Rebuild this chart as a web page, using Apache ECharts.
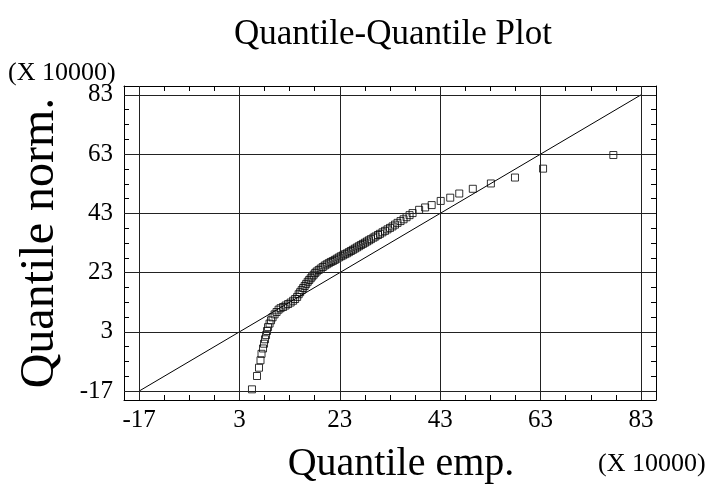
<!DOCTYPE html>
<head>
    <meta charset="utf-8">
    <title>Quantile-Quantile Plot</title>
    <script src="https://cdn.jsdelivr.net/npm/echarts@6/dist/echarts.min.js"></script>
<style type="text/css">
    body{ margin:0; background:#fff; }
    #main{ width:709px; height:487px; }
</style>
</head>
<body>
<div id="main"></div>
<script>
    // empirical quantile (x), normal quantile (y), both in units of 10000
    var empQ = [77.5, 63.5, 57.9, 53.1, 49.5, 46.8, 45.0, 43.1, 41.3, 40.0, 38.8, 37.5,
        36.9, 36.3, 35.7, 35.1, 34.5, 34.0, 33.5, 33.0, 32.5, 32.0, 31.5, 31.0, 30.6, 30.1,
        29.7, 29.2, 28.8, 28.4, 28.0, 27.6, 27.2, 26.8, 26.4, 26.0, 25.6, 25.2, 24.8, 24.4,
        24.0, 23.6, 23.2, 22.8, 22.4, 22.0, 21.6, 21.2, 20.8, 20.4, 20.0, 19.6, 19.2, 18.8,
        18.4, 18.1, 17.8, 17.5, 17.2, 16.9, 16.6, 16.3, 16.0, 15.7, 15.4, 15.1, 14.8, 14.5,
        14.1, 13.7, 13.2, 12.7, 12.2, 11.7, 11.2, 10.8, 10.4, 10.0, 9.6, 9.3, 9.0, 8.7, 8.5,
        8.3, 8.1, 7.9, 7.7, 7.4, 7.2, 6.9, 6.5, 5.5];
    var normQ = [62.7, 58.1, 55.1, 53.1, 51.3, 49.7, 48.3, 47.2, 45.8, 45.0, 44.2, 43.1,
        42.4, 41.7, 41.0, 40.4, 39.8, 39.2, 38.6, 38.1, 37.6, 37.1, 36.6, 36.1, 35.7, 35.2,
        34.8, 34.3, 33.9, 33.5, 33.1, 32.7, 32.3, 31.9, 31.5, 31.1, 30.7, 30.3, 29.9, 29.5,
        29.2, 28.8, 28.5, 28.1, 27.7, 27.3, 26.9, 26.6, 26.2, 25.8, 25.4, 24.9, 24.4, 23.9,
        23.4, 22.9, 22.3, 21.7, 21.1, 20.5, 19.9, 19.2, 18.5, 17.8, 17.1, 16.4, 15.7, 14.8,
        14.1, 13.5, 12.9, 12.4, 11.9, 11.4, 11.0, 10.5, 9.7, 8.9, 7.9, 6.9, 5.8, 4.6, 3.3,
        1.9, 0.5, -1.0, -2.6, -4.4, -6.6, -9.1, -11.9, -16.4];
    var refLine = [[-17, -17], [83, 83]];
    var majorTicks = [-17, 3, 23, 43, 63, 83];
    var minorTicks = [-17, -12, -7, -2, 3, 8, 13, 18, 23, 28, 33, 38, 43, 48, 53, 58, 63, 68, 73, 78, 83];

    var points = [];
    for (var i = 0; i < empQ.length; i++) {
        points.push([empQ[i], normQ[i]]);
    }

    var font = 'Liberation Serif';
    var gridLines = [];
    for (var j = 0; j < majorTicks.length; j++) {
        gridLines.push({xAxis: majorTicks[j]});
        gridLines.push({yAxis: majorTicks[j]});
    }

    function frameAxis(pos, showLabel) {
        return {
            type: 'value',
            position: pos,
            min: -20,
            max: 86,
            axisLine: {show: true, onZero: false, lineStyle: {color: '#000', width: 1}},
            axisTick: {show: true, inside: true, length: 5, customValues: minorTicks,
                lineStyle: {color: '#000', width: 1}},
            axisLabel: {show: showLabel, customValues: majorTicks, color: '#000',
                fontFamily: font, fontSize: 25},
            splitLine: {show: false}
        };
    }

    var myChart = echarts.init(document.getElementById('main'));
    var xBottom = frameAxis('bottom', true);
    xBottom.axisLabel.margin = 8;
    xBottom.name = 'Quantile emp.';
    xBottom.nameLocation = 'middle';
    xBottom.nameGap = 44;
    xBottom.nameTextStyle = {fontFamily: font, fontSize: 40, color: '#000', padding: [0, 0, 0, 22]};
    var yLeft = frameAxis('left', true);
    yLeft.axisLabel.margin = 11;
    yLeft.name = 'Quantile norm.';
    yLeft.nameLocation = 'middle';
    yLeft.nameGap = 60;
    yLeft.nameTextStyle = {fontFamily: font, fontSize: 48, color: '#000'};

    var option = {
        animation: false,
        backgroundColor: '#fff',
        title: {
            text: 'Quantile-Quantile Plot',
            left: 229,
            top: 12,
            textStyle: {fontFamily: font, fontSize: 35, fontWeight: 'normal', color: '#000'}
        },
        grid: {left: 124, top: 86, right: 53, bottom: 87, outerBoundsMode: 'none'},
        xAxis: [xBottom, frameAxis('top', false)],
        yAxis: [yLeft, frameAxis('right', false)],
        graphic: [
            {type: 'text', left: 8, top: 60,
                style: {text: '(X 10000)', fontFamily: font, fontSize: 26, fill: '#000'}},
            {type: 'text', left: 598, top: 451,
                style: {text: '(X 10000)', fontFamily: font, fontSize: 26, fill: '#000'}}
        ],
        series: [
            {
                type: 'line',
                data: refLine,
                showSymbol: false,
                silent: true,
                lineStyle: {color: '#000', width: 1},
                markLine: {
                    silent: true,
                    symbol: ['none', 'none'],
                    label: {show: false},
                    lineStyle: {type: 'solid', color: '#222', width: 1},
                    data: gridLines
                }
            },
            {
                type: 'scatter',
                data: points,
                symbol: 'rect',
                symbolSize: 7,
                itemStyle: {color: 'rgba(0,0,0,0)', borderColor: '#000', borderWidth: 1}
            }
        ]
    };
    myChart.setOption(option);
</script>
</body>
